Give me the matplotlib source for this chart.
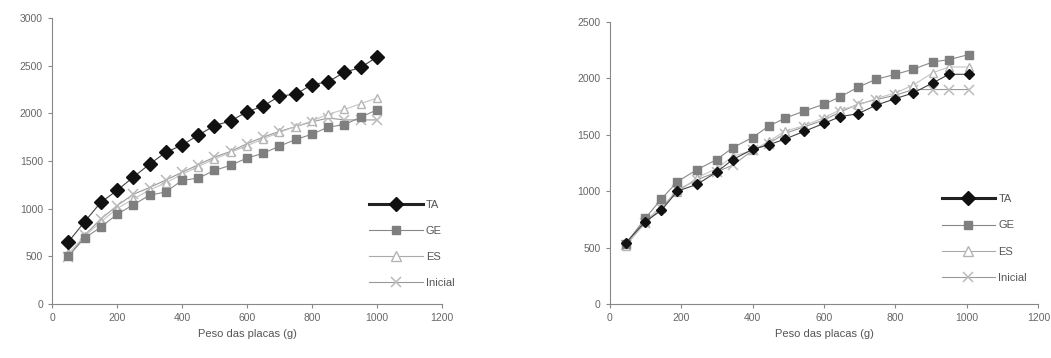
import numpy as np
import matplotlib.pyplot as plt
from matplotlib.lines import Line2D

plt.rcParams['font.family'] = ['Liberation Sans', 'DejaVu Sans']

# dados
peso = [50, 100, 150, 200, 250, 300, 350, 400, 450, 500,
        550, 600, 650, 700, 750, 800, 850, 900, 950, 1000]
peso_b = [45, 100, 145, 190, 245, 300, 345, 400, 445, 490,
          545, 600, 645, 695, 745, 800, 850, 905, 950, 1005]

# painel esquerdo
ta_a = [650, 860, 1065, 1190, 1330, 1465, 1590, 1665, 1770, 1870,
        1920, 2015, 2075, 2180, 2200, 2300, 2330, 2430, 2480, 2590]
ge_a = [500, 690, 805, 940, 1040, 1140, 1175, 1295, 1320, 1400,
        1455, 1530, 1580, 1655, 1725, 1780, 1855, 1880, 1960, 2035]
es_a = [530, 710, 860, 1000, 1100, 1195, 1270, 1360, 1440, 1520,
        1590, 1660, 1730, 1800, 1860, 1920, 1990, 2040, 2100, 2160]
ini_a = [490, 720, 890, 1030, 1150, 1220, 1300, 1380, 1460, 1540,
         1600, 1680, 1750, 1810, 1860, 1910, 1950, 1930, 1930, 1930]

# painel direito
ta_b = [540, 730, 830, 1000, 1060, 1170, 1280, 1370, 1410, 1460,
        1530, 1600, 1660, 1685, 1760, 1820, 1870, 1960, 2035, 2035]
ge_b = [530, 760, 930, 1085, 1190, 1280, 1385, 1475, 1575, 1645,
        1710, 1770, 1835, 1920, 1990, 2035, 2080, 2145, 2165, 2210]
es_b = [510, 730, 870, 990, 1120, 1200, 1310, 1360, 1440, 1530,
        1580, 1650, 1720, 1760, 1820, 1870, 1940, 2050, 2100, 2100]
ini_b = [520, 720, 850, 1010, 1100, 1170, 1230, 1360, 1420, 1510,
         1570, 1630, 1700, 1770, 1810, 1850, 1900, 1900, 1900, 1900]

nomes = ['TA', 'GE', 'ES', 'Inicial']

fig = plt.figure(figsize=(10.51, 3.58), dpi=100)
ax1 = fig.add_axes([0.0495, 0.151, 0.371, 0.799])
ax2 = fig.add_axes([0.580, 0.151, 0.408, 0.788])


def desenha(ax, x, ta, ge, es, ini, ymax, ta_ms, anc):
    ax.plot(x, ini, color='#999999', lw=0.8, marker='x', ms=7, mew=1.1,
            mec='#bbbbbb', zorder=2)
    ax.plot(x, es, color='#c4c4c4', lw=0.8, marker='^', ms=6, mfc='white',
            mec='#b5b5b5', zorder=3)
    ax.plot(x, ge, color='#8a8a8a', lw=0.8, marker='s', ms=5.5, mfc='#7f7f7f',
            mec='#7f7f7f', zorder=4)
    ax.plot(x, ta, color='#444444', lw=0.8, marker='D', ms=ta_ms, mfc='#111111',
            mec='#111111', zorder=5)
    ax.set_xlim(0, 1200)
    ax.set_ylim(0, ymax)
    ax.set_xticks(np.arange(0, 1201, 200))
    ax.set_yticks(np.arange(0, ymax + 1, 500))
    for s in ['top', 'right']:
        ax.spines[s].set_visible(False)
    for s in ['left', 'bottom']:
        ax.spines[s].set_color('#888888')
        ax.spines[s].set_linewidth(0.8)
    ax.tick_params(colors='#888888', labelcolor='#666666', labelsize=7.5,
                   length=3, width=0.8)
    ax.set_xlabel('Peso das placas (g)', fontsize=8, color='#555555', labelpad=4)

    handles = [
        Line2D([], [], color='#222222', lw=2.2, marker='D', ms=7, mfc='#111111', mec='#111111'),
        Line2D([], [], color='#888888', lw=0.8, marker='s', ms=5.5, mfc='#7f7f7f', mec='#7f7f7f'),
        Line2D([], [], color='#aaaaaa', lw=0.8, marker='^', ms=6.5, mfc='white', mec='#b5b5b5'),
        Line2D([], [], color='#999999', lw=0.8, marker='x', ms=7.5, mew=1.1, mec='#bbbbbb'),
    ]
    leg = ax.legend(handles, nomes, loc='lower right', bbox_to_anchor=anc,
                    frameon=False, fontsize=8, handlelength=4.8,
                    labelspacing=1.45, handletextpad=0.3)
    for t in leg.get_texts():
        t.set_color('#555555')


desenha(ax1, peso, ta_a, ge_a, es_a, ini_a, 3000, 7, (1.058, 0.02))
desenha(ax2, peso_b, ta_b, ge_b, es_b, ini_b, 2500, 5.5, (0.997, 0.04))

fig.savefig('out.png', dpi=100)
